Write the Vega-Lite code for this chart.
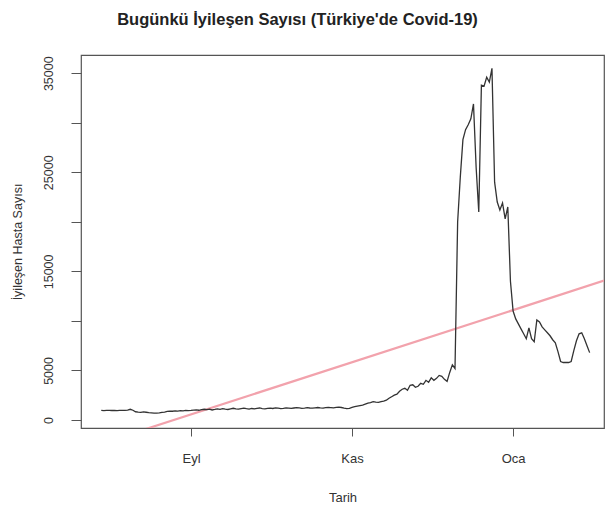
{
  "$schema": "https://vega.github.io/schema/vega-lite/v6.json",
  "width": 523,
  "height": 373,
  "autosize": "none",
  "padding": {"left": 81, "top": 55, "right": 3, "bottom": 78},
  "background": "white",
  "config": {
    "view": {"stroke": "#555555", "strokeWidth": 1.2},
    "font": "Liberation Sans"
  },
  "title": {
    "text": "Bugünkü İyileşen Sayısı (Türkiye'de Covid-19)",
    "font": "Liberation Sans",
    "fontSize": 16.5,
    "fontWeight": "bold",
    "color": "#222222",
    "anchor": "middle",
    "dx": -45,
    "offset": 27
  },
  "datasets": {
    "gunluk": [
      {"date": "2020-07-29", "value": 960}, {"date": "2020-07-30", "value": 950}, {"date": "2020-07-31", "value": 970},
      {"date": "2020-08-01", "value": 960}, {"date": "2020-08-02", "value": 955}, {"date": "2020-08-03", "value": 965},
      {"date": "2020-08-04", "value": 950}, {"date": "2020-08-05", "value": 960}, {"date": "2020-08-06", "value": 970},
      {"date": "2020-08-07", "value": 975}, {"date": "2020-08-08", "value": 990}, {"date": "2020-08-09", "value": 1080},
      {"date": "2020-08-10", "value": 980}, {"date": "2020-08-11", "value": 830}, {"date": "2020-08-12", "value": 790},
      {"date": "2020-08-13", "value": 760}, {"date": "2020-08-14", "value": 820}, {"date": "2020-08-15", "value": 780},
      {"date": "2020-08-16", "value": 740}, {"date": "2020-08-17", "value": 720}, {"date": "2020-08-18", "value": 700},
      {"date": "2020-08-19", "value": 690}, {"date": "2020-08-20", "value": 710}, {"date": "2020-08-21", "value": 760},
      {"date": "2020-08-22", "value": 790}, {"date": "2020-08-23", "value": 860}, {"date": "2020-08-24", "value": 900},
      {"date": "2020-08-25", "value": 880}, {"date": "2020-08-26", "value": 920}, {"date": "2020-08-27", "value": 900},
      {"date": "2020-08-28", "value": 940}, {"date": "2020-08-29", "value": 910}, {"date": "2020-08-30", "value": 960},
      {"date": "2020-08-31", "value": 940},
      {"date": "2020-09-01", "value": 960}, {"date": "2020-09-02", "value": 1000}, {"date": "2020-09-03", "value": 1020},
      {"date": "2020-09-04", "value": 980}, {"date": "2020-09-05", "value": 1050}, {"date": "2020-09-06", "value": 1080},
      {"date": "2020-09-07", "value": 1040}, {"date": "2020-09-08", "value": 1100}, {"date": "2020-09-09", "value": 1010},
      {"date": "2020-09-10", "value": 1060}, {"date": "2020-09-11", "value": 1120}, {"date": "2020-09-12", "value": 1080},
      {"date": "2020-09-13", "value": 1150}, {"date": "2020-09-14", "value": 1100}, {"date": "2020-09-15", "value": 1060},
      {"date": "2020-09-16", "value": 1120}, {"date": "2020-09-17", "value": 1180}, {"date": "2020-09-18", "value": 1130},
      {"date": "2020-09-19", "value": 1090}, {"date": "2020-09-20", "value": 1150}, {"date": "2020-09-21", "value": 1200},
      {"date": "2020-09-22", "value": 1140}, {"date": "2020-09-23", "value": 1100}, {"date": "2020-09-24", "value": 1160},
      {"date": "2020-09-25", "value": 1130}, {"date": "2020-09-26", "value": 1180}, {"date": "2020-09-27", "value": 1210},
      {"date": "2020-09-28", "value": 1150}, {"date": "2020-09-29", "value": 1120}, {"date": "2020-09-30", "value": 1170},
      {"date": "2020-10-01", "value": 1200}, {"date": "2020-10-02", "value": 1160}, {"date": "2020-10-03", "value": 1220},
      {"date": "2020-10-04", "value": 1190}, {"date": "2020-10-05", "value": 1140}, {"date": "2020-10-06", "value": 1180},
      {"date": "2020-10-07", "value": 1230}, {"date": "2020-10-08", "value": 1200}, {"date": "2020-10-09", "value": 1170},
      {"date": "2020-10-10", "value": 1210}, {"date": "2020-10-11", "value": 1250}, {"date": "2020-10-12", "value": 1220},
      {"date": "2020-10-13", "value": 1180}, {"date": "2020-10-14", "value": 1200}, {"date": "2020-10-15", "value": 1240},
      {"date": "2020-10-16", "value": 1210}, {"date": "2020-10-17", "value": 1190}, {"date": "2020-10-18", "value": 1230},
      {"date": "2020-10-19", "value": 1260}, {"date": "2020-10-20", "value": 1220}, {"date": "2020-10-21", "value": 1200},
      {"date": "2020-10-22", "value": 1240}, {"date": "2020-10-23", "value": 1270}, {"date": "2020-10-24", "value": 1250},
      {"date": "2020-10-25", "value": 1230}, {"date": "2020-10-26", "value": 1270}, {"date": "2020-10-27", "value": 1300},
      {"date": "2020-10-28", "value": 1260}, {"date": "2020-10-29", "value": 1200}, {"date": "2020-10-30", "value": 1150},
      {"date": "2020-10-31", "value": 1180},
      {"date": "2020-11-01", "value": 1280}, {"date": "2020-11-02", "value": 1350}, {"date": "2020-11-03", "value": 1400},
      {"date": "2020-11-04", "value": 1450}, {"date": "2020-11-05", "value": 1500}, {"date": "2020-11-06", "value": 1600},
      {"date": "2020-11-07", "value": 1700}, {"date": "2020-11-08", "value": 1750}, {"date": "2020-11-09", "value": 1850},
      {"date": "2020-11-10", "value": 1800}, {"date": "2020-11-11", "value": 1780}, {"date": "2020-11-12", "value": 1850},
      {"date": "2020-11-13", "value": 1900}, {"date": "2020-11-14", "value": 2000}, {"date": "2020-11-15", "value": 2200},
      {"date": "2020-11-16", "value": 2350}, {"date": "2020-11-17", "value": 2500}, {"date": "2020-11-18", "value": 2600},
      {"date": "2020-11-19", "value": 2900}, {"date": "2020-11-20", "value": 3100}, {"date": "2020-11-21", "value": 3200},
      {"date": "2020-11-22", "value": 3000}, {"date": "2020-11-23", "value": 3500}, {"date": "2020-11-24", "value": 3550},
      {"date": "2020-11-25", "value": 3300}, {"date": "2020-11-26", "value": 3400}, {"date": "2020-11-27", "value": 3700},
      {"date": "2020-11-28", "value": 3600}, {"date": "2020-11-29", "value": 4000}, {"date": "2020-11-30", "value": 3800},
      {"date": "2020-12-01", "value": 4250}, {"date": "2020-12-02", "value": 4000}, {"date": "2020-12-03", "value": 4200},
      {"date": "2020-12-04", "value": 4500}, {"date": "2020-12-05", "value": 4400}, {"date": "2020-12-06", "value": 4100},
      {"date": "2020-12-07", "value": 3900}, {"date": "2020-12-08", "value": 4800}, {"date": "2020-12-09", "value": 5560},
      {"date": "2020-12-10", "value": 5200}, {"date": "2020-12-11", "value": 20000}, {"date": "2020-12-12", "value": 24500},
      {"date": "2020-12-13", "value": 28300}, {"date": "2020-12-14", "value": 29300}, {"date": "2020-12-15", "value": 29800},
      {"date": "2020-12-16", "value": 30400}, {"date": "2020-12-17", "value": 31900}, {"date": "2020-12-18", "value": 25500},
      {"date": "2020-12-19", "value": 21000}, {"date": "2020-12-20", "value": 33800}, {"date": "2020-12-21", "value": 33700},
      {"date": "2020-12-22", "value": 34600}, {"date": "2020-12-23", "value": 34100}, {"date": "2020-12-24", "value": 35500},
      {"date": "2020-12-25", "value": 24000}, {"date": "2020-12-26", "value": 22000}, {"date": "2020-12-27", "value": 21200},
      {"date": "2020-12-28", "value": 21900}, {"date": "2020-12-29", "value": 20300}, {"date": "2020-12-30", "value": 21500},
      {"date": "2020-12-31", "value": 14000},
      {"date": "2021-01-01", "value": 11000}, {"date": "2021-01-02", "value": 10200}, {"date": "2021-01-03", "value": 9700},
      {"date": "2021-01-04", "value": 9200}, {"date": "2021-01-05", "value": 8700}, {"date": "2021-01-06", "value": 8200},
      {"date": "2021-01-07", "value": 9300}, {"date": "2021-01-08", "value": 8200}, {"date": "2021-01-09", "value": 7900},
      {"date": "2021-01-10", "value": 10100}, {"date": "2021-01-11", "value": 9900}, {"date": "2021-01-12", "value": 9400},
      {"date": "2021-01-13", "value": 9100}, {"date": "2021-01-14", "value": 8800}, {"date": "2021-01-15", "value": 8500},
      {"date": "2021-01-16", "value": 8100}, {"date": "2021-01-17", "value": 7800}, {"date": "2021-01-18", "value": 6900},
      {"date": "2021-01-19", "value": 5900}, {"date": "2021-01-20", "value": 5800}, {"date": "2021-01-21", "value": 5800},
      {"date": "2021-01-22", "value": 5800}, {"date": "2021-01-23", "value": 5900}, {"date": "2021-01-24", "value": 7000},
      {"date": "2021-01-25", "value": 8000}, {"date": "2021-01-26", "value": 8700}, {"date": "2021-01-27", "value": 8800},
      {"date": "2021-01-28", "value": 8200}, {"date": "2021-01-29", "value": 7500}, {"date": "2021-01-30", "value": 6800}
    ],
    "regresyon": [
      {"date": "2020-07-21T08:00:00Z", "value": -3033},
      {"date": "2021-02-04T10:30:00Z", "value": 14064}
    ]
  },
  "layer": [
    {
      "data": {"name": "regresyon"},
      "mark": {"type": "line", "color": "#F2A2AC", "strokeWidth": 2.2, "clip": true},
      "encoding": {
        "x": {"field": "date", "type": "temporal"},
        "y": {"field": "value", "type": "quantitative"}
      }
    },
    {
      "data": {"name": "gunluk"},
      "mark": {"type": "line", "color": "#333333", "strokeWidth": 1.3, "clip": true},
      "encoding": {
        "x": {
          "field": "date",
          "type": "temporal",
          "scale": {
            "type": "utc",
            "domain": [
              {"year": 2020, "month": 7, "date": 21, "hours": 8, "utc": true},
              {"year": 2021, "month": 2, "date": 4, "hours": 10, "minutes": 30, "utc": true}
            ]
          },
          "axis": {
            "title": "Tarih",
            "values": [
              {"year": 2020, "month": 9, "date": 1, "utc": true},
              {"year": 2020, "month": 11, "date": 1, "utc": true},
              {"year": 2021, "month": 1, "date": 1, "utc": true}
            ],
            "labelExpr": "['Oca','Şub','Mar','Nis','May','Haz','Tem','Ağu','Eyl','Eki','Kas','Ara'][utcmonth(datum.value)]",
            "domain": false,
            "grid": false,
            "ticks": true,
            "tickSize": 8,
            "tickColor": "#555555",
            "labelFont": "Liberation Sans",
            "labelFontSize": 13,
            "labelColor": "#333333",
            "labelPadding": 16,
            "titleFont": "Liberation Sans",
            "titleFontSize": 13,
            "titleFontWeight": "normal",
            "titleColor": "#333333",
            "titlePadding": 26
          }
        },
        "y": {
          "field": "value",
          "type": "quantitative",
          "scale": {"domain": [-810, 36840], "nice": false, "zero": false},
          "axis": {
            "title": "İyileşen Hasta Sayısı",
            "values": [0, 5000, 10000, 15000, 20000, 25000, 30000, 35000],
            "labelExpr": "datum.value == 10000 || datum.value == 20000 || datum.value == 30000 ? '' : datum.value + ''",
            "labelAngle": -90,
            "labelAlign": "center",
            "labelBaseline": "bottom",
            "domain": false,
            "grid": false,
            "tickSize": 10,
            "tickColor": "#555555",
            "labelFont": "Liberation Sans",
            "labelFontSize": 12.5,
            "labelColor": "#333333",
            "labelPadding": 16,
            "titleFont": "Liberation Sans",
            "titleFontSize": 12.5,
            "titleFontWeight": "normal",
            "titleColor": "#333333",
            "titlePadding": 18
          }
        }
      }
    }
  ]
}
